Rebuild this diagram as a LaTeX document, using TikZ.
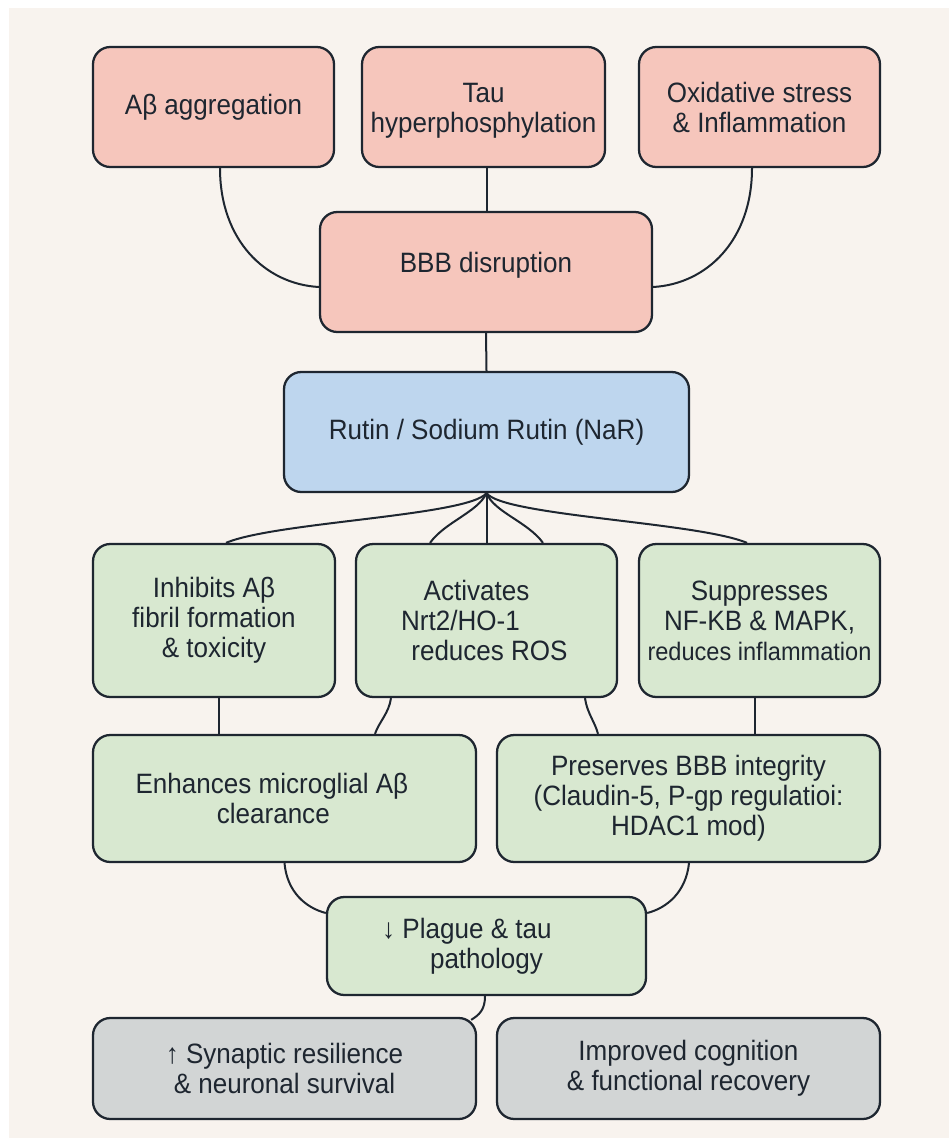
\documentclass[tikz,border=0pt]{standalone}
\usepackage{fontspec}
\setmainfont{Liberation Sans}[FakeStretch=0.93]
\usetikzlibrary{calc}
\definecolor{bgc}{RGB}{248,243,238}
\definecolor{pinkc}{RGB}{246,198,188}
\definecolor{bluec}{RGB}{190,214,238}
\definecolor{greenc}{RGB}{216,232,208}
\definecolor{grayc}{RGB}{210,213,213}
\definecolor{linec}{RGB}{30,38,48}
\begin{document}
\begin{tikzpicture}[x=0.75pt,y=-0.75pt,
  bx/.style 2 args={draw=linec,line width=1.7pt,rounded corners=13pt,
    minimum width=#1*0.75pt,minimum height=#2*0.75pt,inner sep=0pt,
    align=center,font=\fontsize{21}{22.5}\selectfont,text=linec},
  pinkbox/.style={fill=pinkc},
  bluebox/.style={fill=bluec},
  greenbox/.style={fill=greenc},
  graybox/.style={fill=grayc},
  conn/.style={draw=linec,line width=1.5pt}]
\fill[white] (0,0) rectangle (949,1138);
\fill[bgc] (9,8) rectangle (949,1138);
\useasboundingbox (0,0) rectangle (949,1138);

\node[bx={241}{120},pinkbox] (ab) at (213.5,107) {Aβ aggregation};
\node[bx={243}{120},pinkbox] (tau) at (483.5,107) {\raisebox{-3pt}[\height][\depth]{Tau}\\\raisebox{-3pt}[\height][\depth]{hyperphosphylation}};
\node[bx={241}{120},pinkbox] (ox) at (759.5,107) {Oxidative stress\\\& Inflammation};
\node[bx={332}{120},pinkbox] (bbb) at (486,272) {\raisebox{5pt}[\height][\depth]{BBB disruption}};
\node[bx={405}{120},bluebox] (rutin) at (486.5,432) {Rutin / Sodium Rutin (NaR)};
\node[bx={242}{153},greenbox] (inh) at (214,620.5) {Inhibits Aβ\\fibril formation\\\& toxicity};
\node[bx={261}{153},greenbox] (act) at (486.5,620.5) {\makebox[180pt]{\kern-15pt Activates}\\\makebox[180pt]{\kern-39pt Nrt2/HO-1}\\\makebox[180pt]{\kern4.5pt reduces ROS}};
\node[bx={241}{153},greenbox] (sup) at (759.5,620.5) {Suppresses\\NF-KB \& MAPK,\\{\fontsize{19}{22.5}\selectfont reduces inflammation}};
\node[bx={383}{127},greenbox] (enh) at (284.5,798.5) {Enhances microglial Aβ\hspace*{0.9em}\\clearance\hspace*{0.8em}};
\node[bx={383}{127},greenbox] (pres) at (688.5,798.5) {Preserves BBB integrity\\(Claudin-5, P-gp regulatioi:\\HDAC1 mod)};
\node[bx={319}{98},greenbox] (plg) at (486.5,946) {↓ Plague \& tau\hspace*{1.4em}\\pathology};
\node[bx={383}{101},graybox] (syn) at (284.5,1068.5) {↑ Synaptic resilience\\\& neuronal survival};
\node[bx={383}{101},graybox] (imp) at (688.5,1068.5) {Improved cognition\\\& functional recovery};

% top level to BBB
\draw[conn] ($(ab.south)+(6.5,0)$) .. controls (220,240) and (265,284) .. ($(bbb.west)+(0,15)$);
\draw[conn] ($(tau.south)+(3.5,0)$) coordinate (t1) -- (t1 |- bbb.north);
\draw[conn] ($(ox.south)+(-7.5,0)$) .. controls (752,240) and (707,284) .. ($(bbb.east)+(0,15)$);
\draw[conn] (bbb.south) -- (rutin.north);

% rutin fan
\draw[conn] (rutin.south) .. controls (468,516) and (275,522) .. ($(inh.north)+(12,0)$);
\draw[conn] (rutin.south) .. controls (478,512) and (445,522) .. ($(act.north)+(-56.5,0)$);
\draw[conn] (rutin.south) -- (act.north);
\draw[conn] (rutin.south) .. controls (494,512) and (528,522) .. ($(act.north)+(56.5,0)$);
\draw[conn] (rutin.south) .. controls (504,516) and (697,522) .. ($(sup.north)+(-12.5,0)$);

% row1 to row2
\draw[conn] ($(inh.south)+(5,0)$) coordinate (i1) -- (i1 |- enh.north);
\draw[conn] ($(act.south)+(-95.5,0)$) .. controls (389,713) and (379,722) .. ($(enh.north)+(90.5,0)$);
\draw[conn] ($(act.south)+(98.5,0)$) .. controls (587,713) and (595,722) .. ($(pres.north)+(-90.5,0)$);
\draw[conn] ($(sup.south)+(-4.5,0)$) coordinate (s1) -- (s1 |- pres.north);

% row2 to plague
\draw[conn] (enh.south) .. controls (287,892) and (306,908) .. ($(plg.west)+(0,-33)$);
\draw[conn] ($(pres.south)+(0.5,0)$) .. controls (686,892) and (667,908) .. ($(plg.east)+(0,-33)$);

% plague to synaptic
\draw[conn] ($(plg.south)+(-1.5,0)$) .. controls (485,1010) and (479,1015) .. ($(syn.north east)+(-6,3)$);
\end{tikzpicture}
\end{document}
